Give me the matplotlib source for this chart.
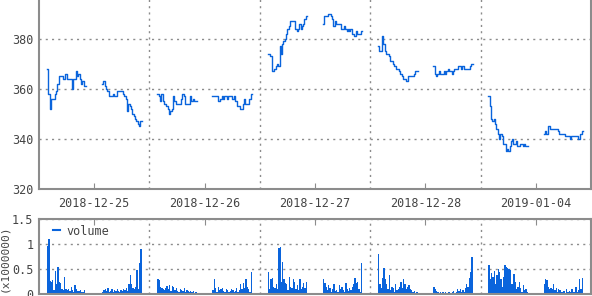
import numpy as np
import matplotlib
matplotlib.use("Agg")
import matplotlib.pyplot as plt

# trading days shown on the x axis
days = ['2018-12-25', '2018-12-26', '2018-12-27', '2018-12-28', '2019-01-04']

# 5 minute closes, morning (9:00-11:30) then afternoon (12:30-15:00), 30 + 30 per day
price = [
    [368, 358, 352, 356, 356, 356, 358, 359, 362, 365, 365, 365, 364, 364, 366,
     364, 364, 364, 364, 360, 364, 364, 367, 365, 366, 364, 362, 363, 361, 361,
     362, 363, 361, 360, 359, 357, 357, 357, 358, 357, 357, 359, 359, 359, 359,
     359, 358, 357, 356, 351, 354, 353, 352, 350, 349, 348, 347, 346, 345, 347],
    [358, 357, 355, 358, 355, 354, 354, 353, 352, 350, 351, 352, 357, 355, 354,
     354, 354, 354, 356, 358, 357, 354, 354, 354, 354, 357, 355, 356, 355, 355,
     357, 357, 357, 357, 355, 355, 356, 357, 356, 357, 357, 356, 357, 357, 357,
     356, 357, 355, 355, 353, 353, 352, 352, 354, 356, 354, 354, 354, 356, 358],
    [374, 374, 373, 367, 367, 368, 369, 370, 369, 377, 374, 378, 379, 380, 382,
     384, 385, 387, 387, 387, 387, 384, 383, 384, 386, 384, 385, 386, 388, 389,
     386, 389, 389, 389, 390, 390, 389, 388, 385, 387, 386, 386, 386, 386, 384,
     384, 385, 384, 383, 384, 383, 384, 382, 382, 381, 383, 382, 382, 382, 383],
    [377, 375, 375, 381, 378, 375, 374, 374, 373, 371, 371, 370, 369, 369, 368,
     368, 367, 366, 365, 364, 364, 363, 363, 365, 365, 365, 365, 366, 367, 367,
     369, 366, 365, 366, 367, 366, 366, 366, 367, 366, 367, 368, 367, 367, 366,
     367, 368, 368, 368, 369, 369, 368, 369, 368, 368, 368, 368, 368, 369, 370],
    [357, 353, 348, 347, 348, 346, 344, 342, 340, 342, 341, 338, 338, 335, 336,
     335, 337, 339, 340, 338, 338, 339, 337, 337, 338, 338, 337, 338, 337, 337,
     342, 343, 342, 345, 345, 344, 344, 344, 344, 344, 344, 343, 342, 342, 342,
     342, 341, 341, 341, 341, 340, 341, 341, 341, 341, 341, 340, 340, 342, 343],
]

# volume per 5 minutes, in millions
volume = [
    [0.97, 1.1, 0.27, 0.25, 0.28, 0.08, 0.47, 0.2, 0.55, 0.25, 0.22, 0.1, 0.08, 0.34, 0.1,
     0.08, 0.1, 0.06, 0.15, 0.08, 0.05, 0.18, 0.1, 0.07, 0.06, 0.09, 0.05, 0.04, 0.08, 0.03,
     0.05, 0.08, 0.1, 0.06, 0.12, 0.04, 0.07, 0.1, 0.05, 0.08, 0.06, 0.1, 0.07, 0.05, 0.08,
     0.06, 0.1, 0.08, 0.12, 0.07, 0.2, 0.38, 0.2, 0.12, 0.1, 0.15, 0.48, 0.1, 0.63, 0.9],
    [0.31, 0.28, 0.15, 0.12, 0.1, 0.08, 0.12, 0.16, 0.1, 0.18, 0.06, 0.17, 0.15, 0.08, 0.12,
     0.06, 0.05, 0.1, 0.08, 0.06, 0.12, 0.05, 0.08, 0.06, 0.05, 0.07, 0.04, 0.06, 0.03, 0.04,
     0.08, 0.31, 0.12, 0.05, 0.15, 0.08, 0.1, 0.12, 0.06, 0.05, 0.1, 0.08, 0.04, 0.06, 0.1,
     0.08, 0.05, 0.06, 0.12, 0.05, 0.08, 0.2, 0.1, 0.23, 0.12, 0.3, 0.15, 0.1, 0.05, 0.45],
    [0.45, 0.1, 0.3, 0.32, 0.15, 0.12, 0.2, 0.1, 0.93, 0.95, 0.25, 0.65, 0.3, 0.22, 0.2,
     0.08, 0.35, 0.15, 0.12, 0.3, 0.25, 0.1, 0.18, 0.08, 0.3, 0.1, 0.15, 0.22, 0.12, 0.25,
     0.3, 0.22, 0.15, 0.08, 0.18, 0.12, 0.05, 0.1, 0.2, 0.06, 0.08, 0.05, 0.18, 0.1, 0.15,
     0.08, 0.05, 0.22, 0.1, 0.06, 0.12, 0.08, 0.15, 0.2, 0.32, 0.22, 0.25, 0.1, 0.05, 0.63],
    [0.8, 0.2, 0.12, 0.32, 0.52, 0.3, 0.2, 0.1, 0.38, 0.08, 0.15, 0.12, 0.05, 0.2, 0.08,
     0.1, 0.15, 0.25, 0.12, 0.3, 0.2, 0.1, 0.15, 0.18, 0.1, 0.08, 0.05, 0.06, 0.03, 0.04,
     0.15, 0.1, 0.06, 0.04, 0.03, 0.05, 0.02, 0.04, 0.03, 0.05, 0.02, 0.04, 0.05, 0.03, 0.04,
     0.06, 0.03, 0.05, 0.1, 0.06, 0.1, 0.05, 0.08, 0.05, 0.12, 0.2, 0.15, 0.32, 0.45, 0.75],
    [0.58, 0.3, 0.42, 0.35, 0.47, 0.2, 0.38, 0.5, 0.45, 0.3, 0.15, 0.35, 0.58, 0.55, 0.52,
     0.5, 0.48, 0.2, 0.2, 0.4, 0.25, 0.1, 0.15, 0.25, 0.12, 0.05, 0.18, 0.08, 0.1, 0.05,
     0.2, 0.3, 0.28, 0.15, 0.1, 0.12, 0.1, 0.2, 0.08, 0.12, 0.05, 0.1, 0.08, 0.05, 0.04,
     0.06, 0.03, 0.1, 0.04, 0.06, 0.05, 0.1, 0.04, 0.05, 0.15, 0.05, 0.08, 0.3, 0.1, 0.32],
]

blue = '#0a64dc'
grey = '#8c8c8c'
txt = '#444444'
plt.rcParams['font.family'] = ['DejaVu Sans Mono']
plt.rcParams['font.size'] = 8.5

# each day spans 8:30-15:30 (420 min); sessions start at 9:00 and 12:30
span = 420.0
starts = [30, 240]

fig = plt.figure(figsize=(5.92, 2.96), dpi=100)
ax = fig.add_axes([39 / 592, 107 / 296, 552 / 592, 200 / 296])
axv = fig.add_axes([39 / 592, 2 / 296, 552 / 592, 75 / 296])

for d in range(len(days)):
    for s in range(2):
        p = price[d][s * 30:(s + 1) * 30]
        v = volume[d][s * 30:(s + 1) * 30]
        x = d + (starts[s] + 5 * np.arange(31)) / span
        ax.plot(x, p + [p[-1]], drawstyle='steps-post', color=blue, lw=1.0)
        axv.bar(x[:-1], v, width=5 / span, align='edge', color=blue, lw=0)

for a in (ax, axv):
    a.set_xlim(0, len(days))
    a.set_xticks(np.arange(len(days)) + 0.5)
    a.set_xticks(np.arange(1, len(days)), minor=True)
    a.grid(True, which='minor', axis='x', linestyle=(0, (1.5, 3)), color=grey, lw=1)
    a.grid(True, which='major', axis='y', linestyle=(0, (1.5, 3)), color=grey, lw=1)
    a.tick_params(which='minor', length=0)
    a.tick_params(axis='y', length=0, colors=txt, pad=4)
    for sp in a.spines.values():
        sp.set_color(grey)
        sp.set_linewidth(1.5)
    a.set_axisbelow(True)

ax.set_ylim(320, 400)
ax.set_yticks([320, 340, 360, 380])
ax.set_xticklabels(days)
ax.tick_params(axis='x', direction='in', length=4, color=grey, labelcolor=txt, pad=6)

axv.set_ylim(0, 1.5)
axv.set_yticks([0, 0.5, 1, 1.5])
axv.set_yticklabels(['0', '0.5', '1', '1.5'])
axv.tick_params(axis='x', direction='in', length=4, color=grey, bottom=False, top=True,
                labelbottom=False)
axv.set_ylabel('(x1000000)', color=txt, fontsize=8)
axv.yaxis.set_label_coords(-0.055, 0.47)
axv.legend(loc='upper left', frameon=False, handlelength=0.6, handletextpad=0.6,
           borderaxespad=0.1, borderpad=0.5, labelcolor=txt,
           handles=[plt.Line2D([], [], color=blue, lw=1.5)], labels=['volume'],
           bbox_to_anchor=(0.012, 1.02))

plt.savefig('out.png', dpi=100)
